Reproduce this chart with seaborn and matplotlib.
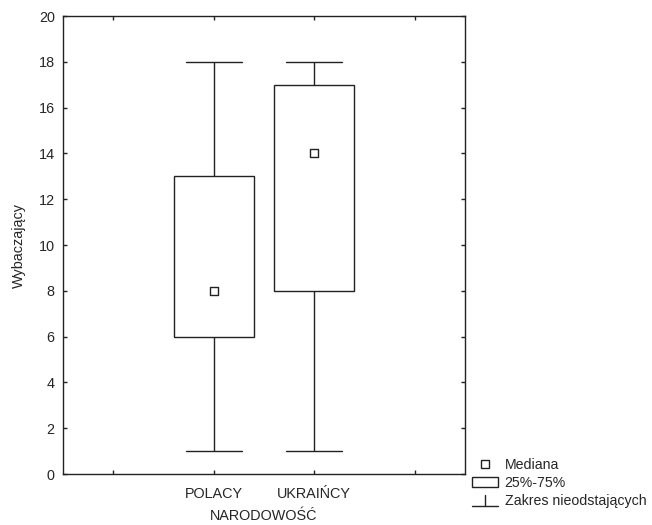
import pandas as pd
import matplotlib
matplotlib.use("Agg")
import matplotlib.pyplot as plt
import seaborn as sns
from matplotlib.lines import Line2D
from matplotlib.patches import Patch
from matplotlib.legend_handler import HandlerBase

# Data: median, quartiles, non-outlier range
groups = ["POLACY", "UKRAIŃCY"]
whisker_low = [1, 1]
q1 = [6, 8]
median = [8, 14]
q3 = [13, 17]
whisker_high = [18, 18]

# empty slots left and right of the two groups
order = ["", "POLACY", "UKRAIŃCY", " "]
legend_labels = ["Mediana", "25%-75%", "Zakres nieodstających"]

ink = "#222222"

# long-form table: five summary values per group give exactly these stats
rows = []
for i, g in enumerate(groups):
    for v in (whisker_low[i], q1[i], median[i], q3[i], whisker_high[i]):
        rows.append({"NARODOWOŚĆ": g, "Wybaczający": v})
df = pd.DataFrame(rows)
med_df = pd.DataFrame({"NARODOWOŚĆ": groups, "Wybaczający": median})

sns.set_style("ticks")
plt.rcParams["font.family"] = ["Liberation Sans", "DejaVu Sans"]
plt.rcParams["font.size"] = 10.4

fig = plt.figure(figsize=(6.52, 5.25), dpi=100)
ax = fig.add_axes([0.0966, 0.0971, 0.6166, 0.8724])

sns.boxplot(data=df, x="NARODOWOŚĆ", y="Wybaczający", order=order, width=0.8,
            color="white", linecolor=ink, linewidth=1.0, whis=1.5, fliersize=0,
            medianprops=dict(visible=False), capwidths=0.56, ax=ax)
sns.stripplot(data=med_df, x="NARODOWOŚĆ", y="Wybaczający", order=order,
              jitter=False, marker="s", size=6, color="white", edgecolor=ink,
              linewidth=1.0, ax=ax, zorder=5)

ax.set_xlim(-0.5, 3.5)
ax.set_ylim(0, 20)
ax.set_yticks(range(0, 21, 2))
ax.set_xticks(range(len(order)))
ax.set_xticklabels(order)
ax.tick_params(direction="in", length=3, width=1, color=ink, labelsize=10.4,
               top=True, right=True)
ax.tick_params(axis="y", pad=6)
ax.tick_params(axis="x", pad=9)
for s in ax.spines.values():
    s.set_visible(True)
    s.set_color(ink)
    s.set_linewidth(1.0)
ax.set_xlabel("NARODOWOŚĆ", fontsize=10.4, labelpad=6)
ax.set_ylabel("Wybaczający", fontsize=10.4, labelpad=9)


class WhiskerHandler(HandlerBase):
    def create_artists(self, legend, orig_handle, xdescent, ydescent,
                       width, height, fontsize, trans):
        x0 = -xdescent
        x1 = x0 + width
        xm = (x0 + x1) / 2
        y0 = -ydescent - 1
        cap = Line2D([x0, x1], [y0, y0], color=ink, lw=1.0, transform=trans)
        stem = Line2D([xm, xm], [y0, y0 + height + 1], color=ink, lw=1.0,
                      transform=trans)
        return [cap, stem]


class WhiskerKey:
    pass


handles = [
    Line2D([], [], ls="none", marker="s", markersize=6, markerfacecolor="white",
           markeredgecolor=ink, markeredgewidth=1.0),
    Patch(facecolor="white", edgecolor=ink, linewidth=1.0),
    WhiskerKey(),
]
fig.legend(handles, legend_labels, handler_map={WhiskerKey: WhiskerHandler()},
           loc="upper left", bbox_to_anchor=(0.724, 0.128), frameon=False,
           fontsize=10.2, handlelength=1.8, handletextpad=0.5, labelspacing=0.28,
           borderaxespad=0, borderpad=0)

fig.savefig("out.png", dpi=100)
